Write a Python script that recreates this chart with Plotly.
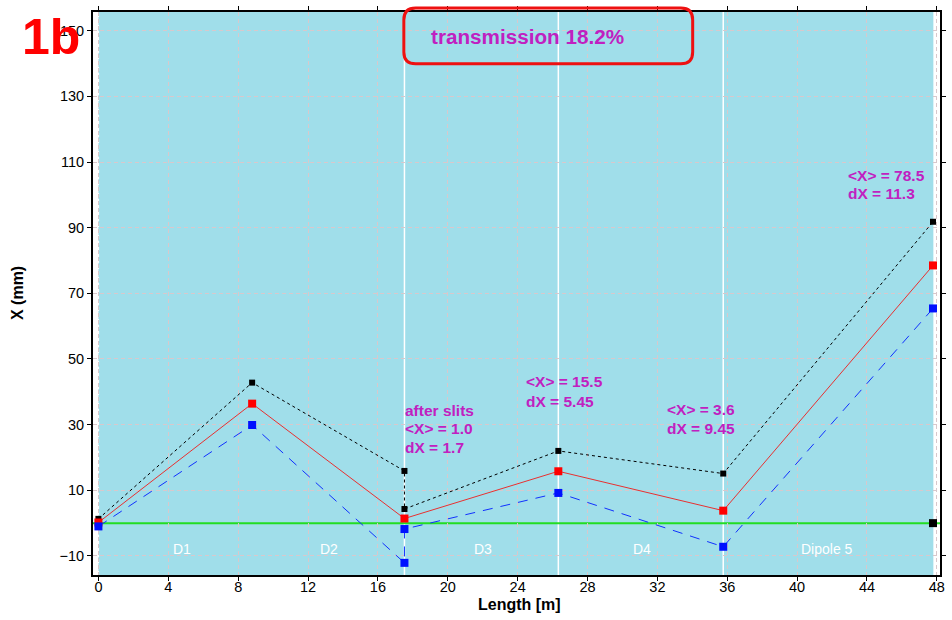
import plotly.graph_objects as go

# ---- data ----
pos_x = [0.0, 8.8, 17.52, 17.52, 26.33, 35.77, 47.78]
x_max = [1.3, 42.8, 15.9, 4.3, 22.0, 15.1, 91.8]
x_mean_pos = [0.0, 8.8, 17.52, 26.33, 35.77, 47.78]
x_mean = [0.2, 36.4, 1.4, 15.8, 3.8, 78.5]
pos_x_min = [0.0, 8.8, 17.52, 17.52, 26.33, 35.77, 47.78]
x_min = [-1.0, 29.9, -12.1, -1.8, 9.2, -7.2, 65.4]
end_x = [47.78]
end_y = [0.0]

boundaries = [0.0, 17.52, 26.33, 35.77]
section_names = ["D1", "D2", "D3", "D4", "Dipole 5"]
section_x = [4.8, 13.2, 22.0, 31.1, 41.7]
x_ticks = list(range(0, 49, 4))
y_ticks = list(range(-10, 151, 20))

notes = [
    ("<X> = 78.5", 42.8, 106.0), ("dX = 11.3", 42.8, 100.5),
    ("after slits", 17.42, 34.3), ("<X> = 1.0", 17.42, 28.8), ("dX = 1.7", 17.42, 22.9),
    ("<X> = 15.5", 24.36, 43.2), ("dX = 5.45", 24.36, 37.2),
    ("<X> = 3.6", 32.43, 34.5), ("dX = 9.45", 32.43, 28.7),
]

X_RANGE = [-0.31, 48.18]
Y_RANGE = [-15.8, 155.7]
CYAN = "#A0DEEA"
MAG = "#C020C0"
FONT = "Liberation Sans, Arial, sans-serif"

fig = go.Figure()

fig.add_trace(go.Scatter(x=pos_x, y=x_max, mode="lines+markers",
                         line=dict(color="black", width=1, dash="dot"),
                         marker=dict(symbol="square", size=6, color="black"),
                         showlegend=False))
fig.add_trace(go.Scatter(x=x_mean_pos, y=x_mean, mode="lines+markers",
                         line=dict(color="#E83030", width=1),
                         marker=dict(symbol="square", size=8, color="#FF0000"),
                         showlegend=False))
fig.add_trace(go.Scatter(x=pos_x_min, y=x_min, mode="lines+markers",
                         line=dict(color="#1030FF", width=1, dash="10px,8px"),
                         marker=dict(symbol="square", size=8, color="#0010FF"),
                         showlegend=False))
fig.add_trace(go.Scatter(x=end_x, y=end_y, mode="markers",
                         marker=dict(symbol="square", size=8, color="black"),
                         showlegend=False))

shapes = []
# cyan background region
shapes.append(dict(type="rect", xref="x", yref="paper", x0=0, x1=47.8, y0=0, y1=1,
                   fillcolor=CYAN, line=dict(width=0), layer="below"))
# dipole boundaries
for b in boundaries:
    shapes.append(dict(type="line", xref="x", yref="paper", x0=b, x1=b, y0=0, y1=1,
                       line=dict(color="white", width=1.5,
                                 dash="solid" if b > 0 else "4px,2px"), layer="between"))
# zero line
shapes.append(dict(type="line", xref="paper", yref="y", x0=0, x1=1, y0=0, y1=0,
                   line=dict(color="#22DD22", width=2), layer="between"))
# rounded red box
x0, x1, y0, y1 = 0.367, 0.708, 0.908, 1.007
rx, ry = 0.014, 0.021
path = (f"M {x0+rx},{y0} L {x1-rx},{y0} Q {x1},{y0} {x1},{y0+ry} "
        f"L {x1},{y1-ry} Q {x1},{y1} {x1-rx},{y1} L {x0+rx},{y1} "
        f"Q {x0},{y1} {x0},{y1-ry} L {x0},{y0+ry} Q {x0},{y0} {x0+rx},{y0} Z")
shapes.append(dict(type="path", xref="paper", yref="paper", path=path,
                   line=dict(color="#EE1111", width=3), layer="above"))

annotations = []
for t, ax, ay in notes:
    annotations.append(dict(text=t, x=ax, y=ay, xref="x", yref="y", showarrow=False,
                            xanchor="left", yanchor="middle",
                            font=dict(family=FONT, size=15.5, color=MAG, weight="bold")))
for name, sx in zip(section_names, section_x):
    annotations.append(dict(text=name, x=sx, y=-7.8, xref="x", yref="y", showarrow=False,
                            xanchor="center", yanchor="middle",
                            font=dict(family=FONT, size=14, color="white")))
annotations.append(dict(text="transmission 18.2%", x=0.5135, y=0.957, xref="paper",
                        yref="paper", showarrow=False, xanchor="center", yanchor="middle",
                        font=dict(family=FONT, size=20.7, color=MAG, weight="bold")))
annotations.append(dict(text="1b", x=-0.049, y=0.955, xref="paper", yref="paper",
                        showarrow=False, xanchor="center", yanchor="middle",
                        font=dict(family=FONT, size=50, color="#FF0000", weight="bold")))
annotations.append(dict(text="X (mm)", x=-0.0891, y=0.5, xref="paper", yref="paper",
                        showarrow=False, textangle=-90, xanchor="center", yanchor="middle",
                        font=dict(family=FONT, size=16, color="black", weight="bold")))
annotations.append(dict(text="Length [m]", x=0.503, y=-0.053, xref="paper", yref="paper",
                        showarrow=False, xanchor="center", yanchor="middle",
                        font=dict(family=FONT, size=16, color="black", weight="bold")))

grid = dict(showgrid=True, gridcolor="#D8C8CC", griddash="4px,3px", gridwidth=1)

fig.update_layout(
    width=952, height=620,
    margin=dict(l=93, r=6, t=9, b=45),
    paper_bgcolor="white", plot_bgcolor="white",
    shapes=shapes, annotations=annotations,
    font=dict(family=FONT, size=14.5, color="black"),
    xaxis=dict(range=X_RANGE, tickvals=x_ticks, ticks="outside", ticklen=4,
               tickcolor="black", showline=True, linecolor="black", linewidth=2,
               mirror="ticks", zeroline=False, tickfont=dict(size=14.5),
               ticklabelstandoff=-6, **grid),
    yaxis=dict(range=Y_RANGE, tickvals=y_ticks, ticks="outside", ticklen=4,
               tickcolor="black", showline=True, linecolor="black", linewidth=2,
               mirror="ticks", zeroline=False, tickfont=dict(size=14.5), **grid),
)

fig.write_html("out.html")
